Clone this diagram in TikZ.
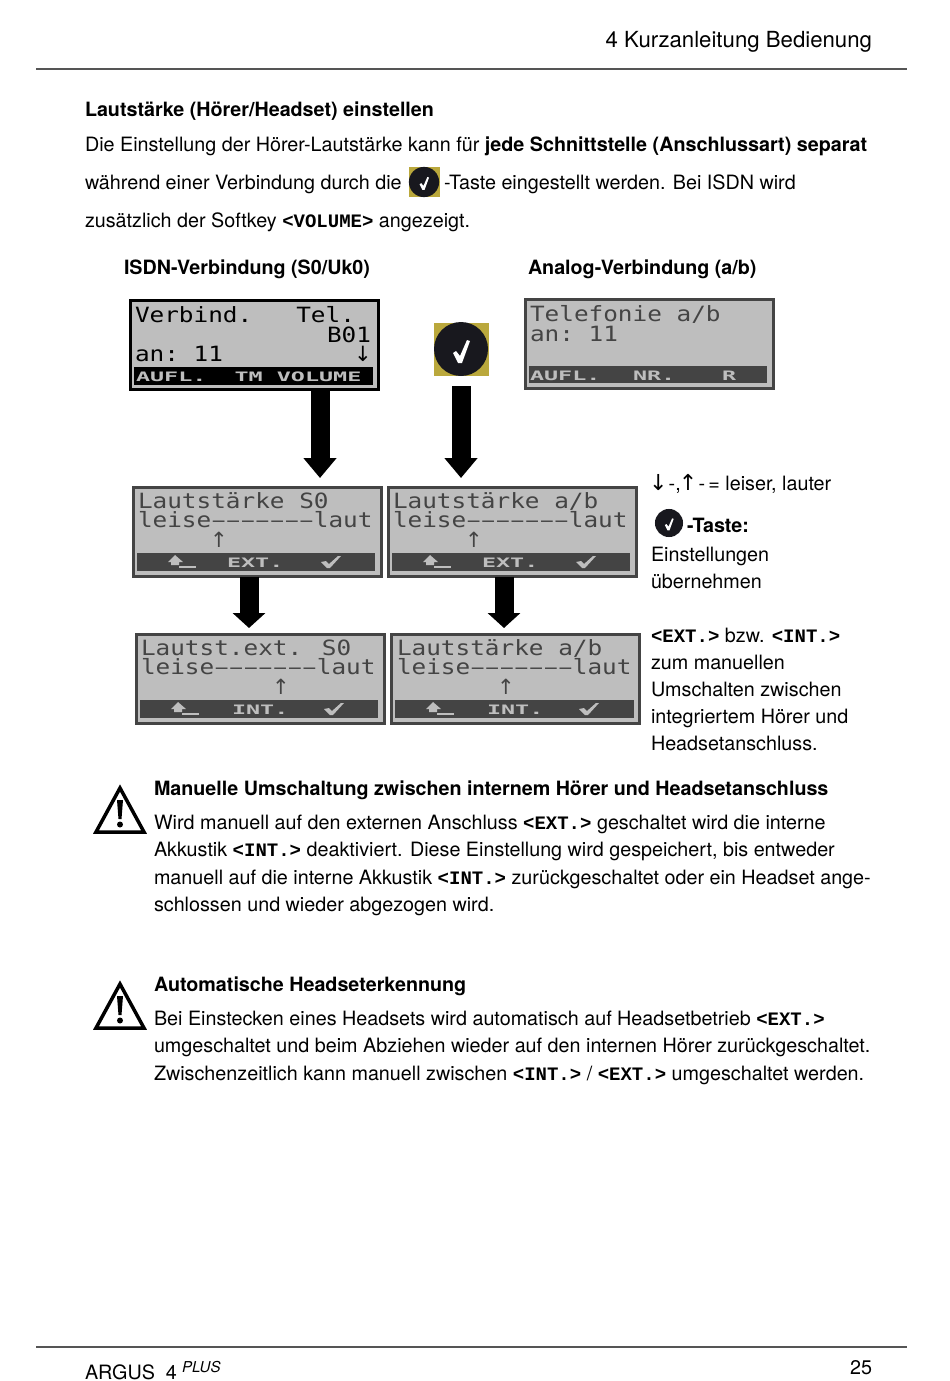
\documentclass[tikz,border=0pt]{standalone}
\usepackage{fontspec}
\setmainfont{TeX Gyre Heros}
\newfontfamily\tagfont{Liberation Mono}
\newfontfamily\symfont{DejaVu Sans}
\newfontfamily\lcdfont[FakeStretch=1.16]{DejaVu Sans Mono}
\newfontfamily\keyfont[FakeStretch=1.8]{DejaVu Sans Mono}
\usetikzlibrary{arrows.meta, calc}
\definecolor{rulecol}{RGB}{85,85,85}
\definecolor{lcdcol}{RGB}{190,190,190}
\definecolor{lcdink}{RGB}{68,68,68}
\definecolor{keycol}{RGB}{186,168,60}
\definecolor{capcol}{RGB}{24,24,30}
\newcommand{\tagtxt}[1]{{\tagfont\bfseries\fontsize{19}{24}\selectfont #1}}
\newcommand{\lcddash}{\makebox[14.65pt]{\scalebox{0.8}[1]{–}}}
\newcommand{\lcdscale}{leise\lcddash\lcddash\lcddash\lcddash\lcddash\lcddash\lcddash laut}
\tikzset{
  every node/.style={inner sep=0pt, outer sep=0pt},
  pagetext/.style={anchor=base west, font=\fontsize{19.75}{24}\selectfont},
  pagebold/.style={pagetext, font=\fontsize{19.7}{24}\selectfont\bfseries},
  lcdbox/.style={draw=lcdink, fill=lcdcol, line width=3pt, minimum width=248pt, minimum height=89pt},
  lcdtext/.style={anchor=base west, text=lcdink, font=\lcdfont\fontsize{21}{21}\selectfont},
  lcdarrow/.style={anchor=center, text=lcdink, font=\symfont\fontsize{21}{21}\selectfont},
  keytext/.style={anchor=base west, text=lcdcol, font=\keyfont\bfseries\fontsize{13}{13}\selectfont},
  keybar/.style={fill=lcdink},
  blockarrow/.style={line width=19pt, -{Triangle[length=20pt, width=32pt]}},
  shortarrow/.style={line width=19pt, -{Triangle[length=15pt, width=32pt]}},
  backkey/.pic={
    \fill[lcdcol] (-7,-7) -- (1,0) -- (-3,0) -- (-3,3) -- (-11,3) -- (-11,0) -- (-14,0) -- cycle;
    \fill[lcdcol] (-3,3.5) rectangle (14,5.5);
  },
  checkkey/.pic={
    \fill[lcdcol] (-10,0) -- (-5,-1) -- (-2,2) -- (7,-6) -- (10,-6) -- (-1,6) -- (-4,6) -- cycle;
  },
  tickbutton/.pic={
    \fill[capcol] (0,0) circle (27);
    \fill[white] (-8,4) -- (-5,2) -- (-1,7) -- (6,-9) -- (9,-8) -- (1,14) -- (-3,14) -- cycle;
  },
  warnsign/.pic={
    \draw[black, line width=3.5pt, line join=miter] (0,0) -- (24,44) -- (-24,44) -- cycle;
    \fill[black] (-3,12) -- (3,12) -- (1.5,31) -- (-1.5,31) -- cycle;
    \fill[black] (0,36.5) circle (3);
  }
}
\begin{document}
\begin{tikzpicture}[x=1pt, y=-1pt]

  \useasboundingbox (0,0) rectangle (950,1381);

  % --- page head and foot ---
  \coordinate (RuleTopL) at (36,69);
  \coordinate (RuleTopR) at (907,69);
  \coordinate (RuleBotL) at (36,1347);
  \coordinate (RuleBotR) at (907,1347);
  \draw[rulecol, line width=1.2pt] (RuleTopL) -- (RuleTopR);
  \draw[rulecol, line width=1.2pt] (RuleBotL) -- (RuleBotR);
  \node[pagetext, anchor=base east, font=\fontsize{22.2}{24}\selectfont] (HeadTitle) at (872,48) {4 Kurzanleitung Bedienung};
  \node[pagetext] (FootName) at (85,1379) {ARGUS\ \ 4};
  \node[pagetext, font=\fontsize{15}{18}\selectfont\itshape] (FootPlus) at (182,1372) {PLUS};
  \node[pagetext, anchor=base east] (FootPage) at (872,1374) {25};

  % --- intro ---
  \node[pagebold] (IntroHead) at (85,116) {Lautstärke (Hörer/Headset) einstellen};
  \node[pagetext] (IntroA) at (85,151) {Die Einstellung der Hörer-Lautstärke kann für \textbf{jede Schnittstelle (Anschlussart) separat}};
  \node[pagetext] (IntroB) at (85,189) {während einer Verbindung durch die};
  \fill[keycol] (409,167) rectangle (440,197);
  \pic[scale=0.56] at (424,182) {tickbutton};
  \node[pagetext] (IntroC) at (444,189) {-Taste eingestellt werden. Bei ISDN wird};
  \node[pagetext] (IntroD) at (85,227) {zusätzlich der Softkey \tagtxt{<VOLUME>} angezeigt.};
  \node[pagebold] (IsdnHead) at (124,274) {ISDN-Verbindung (S0/Uk0)};
  \node[pagebold] (AnalogHead) at (528,274) {Analog-Verbindung (a/b)};

  % --- displays ---
  \node[lcdbox, draw=black] (VerbindBox) at (254.5,345) {};
  \fill[black] (134,367) rectangle (373,385);
  \node[lcdtext, text=black] (VerbindA) at (135,322) {Verbind.~~~Tel.};
  \node[lcdtext, text=black] (VerbindB) at (327,342) {B01};
  \node[lcdtext, text=black] (VerbindC) at (135,361) {an:~11};
  \node[lcdarrow, text=black] (VerbindD) at (363,354) {↓};
  \node[keytext] (VerbindKeys) at (136,381) {AUFL.~~TM~VOLUME};

  \node[lcdbox] (TelBox) at (649.5,344) {};
  \fill[keybar] (529,366) rectangle (767,383);
  \node[lcdtext] (TelA) at (530,321) {Telefonie a/b};
  \node[lcdtext] (TelB) at (530,341) {an:~11};
  \node[keytext] (TelKeyA) at (530,380) {AUFL.};
  \node[keytext] (TelKeyB) at (633,380) {NR.};
  \node[keytext] (TelKeyC) at (722,380) {R};

  \node[lcdbox] (VolS) at (257,532) {};
  \fill[keybar] (137,553) rectangle (375,571);
  \node[lcdtext] (VolSA) at (138,508) {Lautstärke S0};
  \node[lcdtext] (VolSB) at (138,527) {\lcdscale};
  \node[lcdarrow] (VolSC) at (219,540) {↑};
  \pic at (182,562) {backkey};
  \node[keytext] (VolSKey) at (227,567) {EXT.};
  \pic at (331,562) {checkkey};

  \node[lcdbox] (VolA) at (512.5,532) {};
  \fill[keybar] (392,553) rectangle (630,571);
  \node[lcdtext] (VolAA) at (393,508) {Lautstärke a/b};
  \node[lcdtext] (VolAB) at (393,527) {\lcdscale};
  \node[lcdarrow] (VolAC) at (474,540) {↑};
  \pic at (437,562) {backkey};
  \node[keytext] (VolAKey) at (482,567) {EXT.};
  \pic at (586,562) {checkkey};

  \node[lcdbox] (ExtS) at (260,678.5) {};
  \fill[keybar] (140,700) rectangle (378,718);
  \node[lcdtext] (ExtSA) at (141,655) {Lautst.ext. S0};
  \node[lcdtext] (ExtSB) at (141,674) {\lcdscale};
  \node[lcdarrow] (ExtSC) at (281,687) {↑};
  \pic at (185,709) {backkey};
  \node[keytext] (ExtSKey) at (232,714) {INT.};
  \pic at (334,709) {checkkey};

  \node[lcdbox] (ExtA) at (515.5,678.5) {};
  \fill[keybar] (395,700) rectangle (634,718);
  \node[lcdtext] (ExtAA) at (397,655) {Lautstärke a/b};
  \node[lcdtext] (ExtAB) at (397,674) {\lcdscale};
  \node[lcdarrow] (ExtAC) at (506,687) {↑};
  \pic at (440,709) {backkey};
  \node[keytext] (ExtAKey) at (487,714) {INT.};
  \pic at (589,709) {checkkey};

  % --- key and arrows ---
  \node[fill=keycol, minimum width=55pt, minimum height=53pt] (TickKey) at (461.5,349.5) {};
  \pic at (461,349) {tickbutton};
  \coordinate (TipA) at (320,478);
  \coordinate (TipB) at (461,478);
  \coordinate (TipC) at (249,628);
  \coordinate (TipD) at (504,628);
  \draw[blockarrow] (TipA |- VerbindBox.south) -- (TipA);
  \draw[blockarrow] (TipB |- TickKey.south) ++(0,10) -- (TipB);
  \draw[shortarrow] (TipC |- VolS.south) -- (TipC);
  \draw[shortarrow] (TipD |- VolA.south) -- (TipD);

  % --- right column ---
  \node[pagetext] (SideA) at (649,490) {{\symfont\fontsize{22}{24}\selectfont ↓}\kern-2pt\,-,\kern-2pt{\symfont\fontsize{22}{24}\selectfont ↑}\kern-2pt\,-\,=\ leiser, lauter};
  \pic[scale=0.52] at (669,523) {tickbutton};
  \node[pagebold] (SideB) at (687,532) {-Taste:};
  \node[pagetext] (SideC) at (651,561) {Einstellungen};
  \node[pagetext] (SideD) at (651,588) {übernehmen};
  \node[pagetext] (SideE) at (651,642) {\tagtxt{<EXT.>} bzw. \tagtxt{<INT.>}};
  \node[pagetext] (SideF) at (651,669) {zum manuellen};
  \node[pagetext] (SideG) at (651,696) {Umschalten zwischen};
  \node[pagetext] (SideH) at (651,723) {integriertem Hörer und};
  \node[pagetext] (SideI) at (651,750) {Headsetanschluss.};

  % --- first note ---
  \pic at (120,788) {warnsign};
  \node[pagebold] (NoteAHead) at (154,795) {Manuelle Umschaltung zwischen internem Hörer und Headsetanschluss};
  \node[pagetext] (NoteAA) at (154,829) {Wird manuell auf den externen Anschluss \tagtxt{<EXT.>} geschaltet wird die interne};
  \node[pagetext] (NoteAB) at (154,856) {Akkustik \tagtxt{<INT.>} deaktiviert. Diese Einstellung wird gespeichert, bis entweder};
  \node[pagetext] (NoteAC) at (154,884) {manuell auf die interne Akkustik \tagtxt{<INT.>} zurückgeschaltet oder ein Headset ange-};
  \node[pagetext] (NoteAD) at (154,911) {schlossen und wieder abgezogen wird.};

  % --- second note ---
  \pic at (120,984) {warnsign};
  \node[pagebold] (NoteBHead) at (154,991) {Automatische Headseterkennung};
  \node[pagetext] (NoteBA) at (154,1025) {Bei Einstecken eines Headsets wird automatisch auf Headsetbetrieb \tagtxt{<EXT.>}};
  \node[pagetext] (NoteBB) at (154,1052) {umgeschaltet und beim Abziehen wieder auf den internen Hörer zurückgeschaltet.};
  \node[pagetext] (NoteBC) at (154,1080) {Zwischenzeitlich kann manuell zwischen \tagtxt{<INT.>} / \tagtxt{<EXT.>} umgeschaltet werden.};

\end{tikzpicture}
\end{document}
